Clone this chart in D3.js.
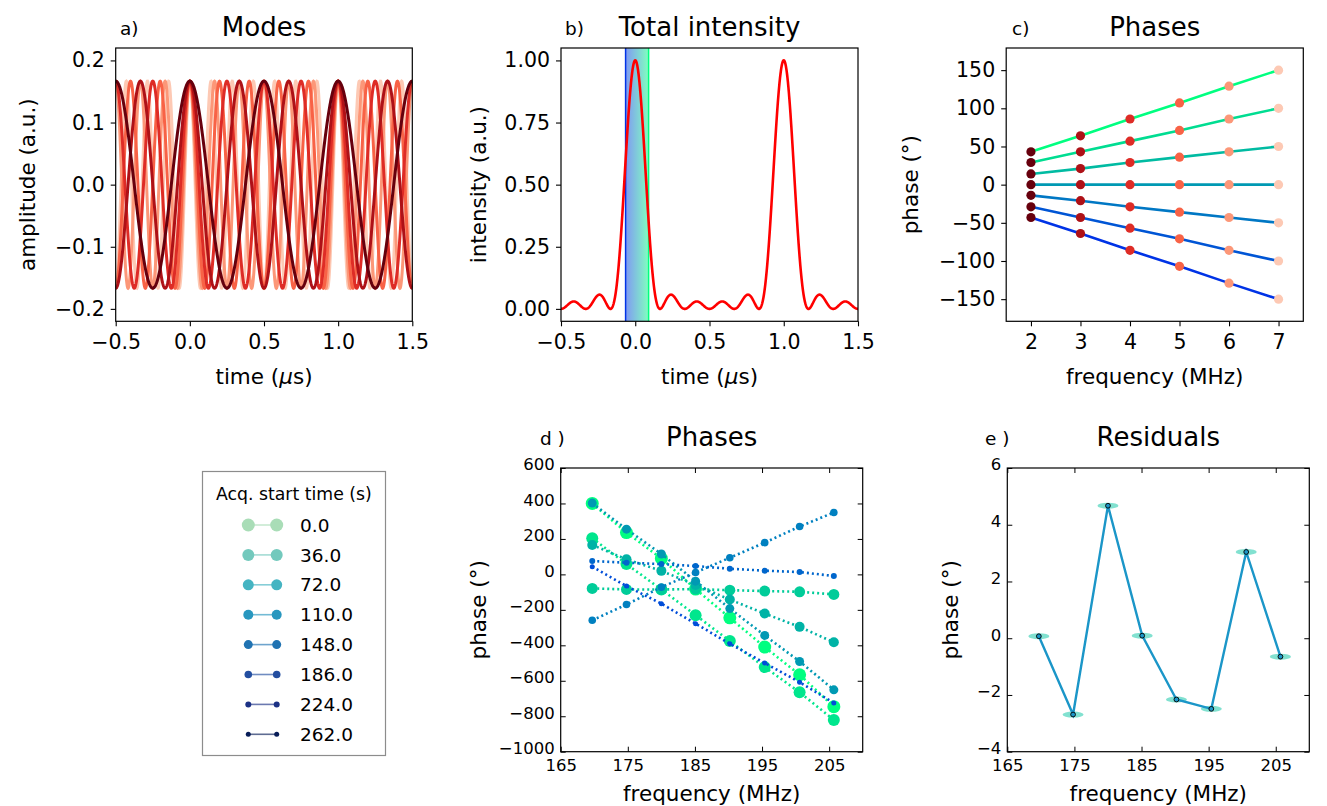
<!DOCTYPE html>
<html>
<head>
<meta charset="utf-8">
<script src="https://cdn.jsdelivr.net/npm/d3@7"></script>
<style>
  body { margin: 0; background: #fff; }
  svg text { font-family: "DejaVu Sans", sans-serif; fill: #000; }
</style>
</head>
<body>
<div id="chart"></div>
<script>
// ---- data ----
const modeFreqs = [2, 3, 4, 5, 6, 7];          // MHz
const modeAmp = 0.1667;                         // a.u.
const timeTicks = [-0.5, 0, 0.5, 1, 1.5];
const ampTicks = [-0.2, -0.1, 0, 0.1, 0.2];
const intTicks = [0, 0.25, 0.5, 0.75, 1];
const bandStart = -0.065, bandEnd = 0.09;      // acquisition window (us)

const phaseFreqs = [2, 3, 4, 5, 6, 7];
const phaseLines = [
  [43, 64, 86, 107, 129, 150],
  [29, 43, 57, 71, 86, 100],
  [14, 21, 29, 36, 43, 50],
  [0, 0, 0, 0, 0, 0],
  [-14, -21, -29, -36, -43, -50],
  [-29, -43, -57, -71, -86, -100],
  [-43, -64, -86, -107, -129, -150]
];
const phaseTicks = [-150, -100, -50, 0, 50, 100, 150];

const acqTimes = ['0.0', '36.0', '72.0', '110.0', '148.0', '186.0', '224.0', '262.0'];
const measFreqs = [169.7, 174.8, 180.0, 185.1, 190.2, 195.4, 200.6, 205.7];
const measPhases = [
  [400, 236, 90, -83, -245, -410, -566, -746],
  [204, 58, -85, -230, -376, -523, -665, -821],
  [-79, -85, -85, -83, -89, -94, -98, -113],
  [166, 85, 20, -60, -142, -221, -296, -383],
  [402, 255, 115, -38, -193, -344, -491, -651],
  [-259, -170, -72, 11, 94, 179, 270, 349],
  [75, 66, 58, 47, 32, 21, 13, -9],
  [43, -66, -165, -278, -391, -500, -608, -725]
];
const freqTicks = [165, 175, 185, 195, 205];
const dPhaseTicks = [-1000, -800, -600, -400, -200, 0, 200, 400, 600];
const residuals = [0.07, -2.69, 4.67, 0.09, -2.16, -2.49, 3.04, -0.65];
const resTicks = [-4, -2, 0, 2, 4, 6];

// ---- layout ----
const boxA = { l: 115.7, r: 412.3, t: 48, b: 321.3 };
const boxB = { l: 561, r: 858, t: 48, b: 321.3 };
const boxC = { l: 1006.2, r: 1303.3, t: 48, b: 321.3 };
const boxD = { l: 560.7, r: 862.7, t: 468, b: 751.7 };
const boxE = { l: 1007.3, r: 1309.3, t: 468, b: 751.7 };

const winter = d3.interpolateRgb('#0000ff', '#00ff80');
const markerR = [6.5, 6, 5.5, 5, 4.5, 3.8, 3, 2.5];

const svg = d3.select('#chart').append('svg')
  .attr('width', 1327)
  .attr('height', 806);

const defs = svg.append('defs');
[['A', boxA], ['B', boxB], ['C', boxC], ['D', boxD], ['E', boxE]].forEach(([id, b]) => {
  defs.append('clipPath').attr('id', 'clip' + id)
    .append('rect')
    .attr('x', b.l).attr('y', b.t)
    .attr('width', b.r - b.l).attr('height', b.b - b.t);
});

// Axes in the newer matplotlib look: outward ticks on left/bottom, full frame
function frameNew(box, x, y, xTicks, yTicks, xFmt, yFmt) {
  const g = svg.append('g');
  g.append('g')
    .attr('transform', `translate(0,${box.b})`)
    .call(d3.axisBottom(x).tickValues(xTicks).tickFormat(xFmt).tickSizeInner(5).tickSizeOuter(0).tickPadding(8))
    .call(s => s.select('.domain').remove())
    .call(s => s.selectAll('text').attr('font-size', 20.5));
  g.append('g')
    .attr('transform', `translate(${box.l},0)`)
    .call(d3.axisLeft(y).tickValues(yTicks).tickFormat(yFmt).tickSizeInner(5).tickSizeOuter(0).tickPadding(6))
    .call(s => s.select('.domain').remove())
    .call(s => s.selectAll('text').attr('font-size', 20.5));
  g.selectAll('line').attr('stroke', '#000').attr('stroke-width', 1.1);
  g.append('rect')
    .attr('x', box.l).attr('y', box.t)
    .attr('width', box.r - box.l).attr('height', box.b - box.t)
    .attr('fill', 'none').attr('stroke', '#000').attr('stroke-width', 1.2);
  return g;
}

// Axes in the classic look: inward ticks on all four sides
function frameClassic(box, x, y, xTicks, yTicks, yFmt) {
  const g = svg.append('g');
  g.append('g')
    .attr('transform', `translate(0,${box.b})`)
    .call(d3.axisBottom(x).tickValues(xTicks).tickFormat(d3.format('d')).tickSizeInner(-5).tickSizeOuter(0).tickPadding(8))
    .call(s => s.select('.domain').remove())
    .call(s => s.selectAll('text').attr('font-size', 16.5));
  g.append('g')
    .attr('transform', `translate(0,${box.t})`)
    .call(d3.axisTop(x).tickValues(xTicks).tickFormat('').tickSizeInner(-5).tickSizeOuter(0))
    .call(s => s.select('.domain').remove());
  g.append('g')
    .attr('transform', `translate(${box.l},0)`)
    .call(d3.axisLeft(y).tickValues(yTicks).tickFormat(yFmt).tickSizeInner(-5).tickSizeOuter(0).tickPadding(6))
    .call(s => s.select('.domain').remove())
    .call(s => s.selectAll('text').attr('font-size', 16.5).attr('dy', '0.12em'));
  g.append('g')
    .attr('transform', `translate(${box.r},0)`)
    .call(d3.axisRight(y).tickValues(yTicks).tickFormat('').tickSizeInner(-5).tickSizeOuter(0))
    .call(s => s.select('.domain').remove());
  g.selectAll('line').attr('stroke', '#000').attr('stroke-width', 1);
  g.append('rect')
    .attr('x', box.l).attr('y', box.t)
    .attr('width', box.r - box.l).attr('height', box.b - box.t)
    .attr('fill', 'none').attr('stroke', '#000').attr('stroke-width', 1.2);
  return g;
}

function titles(box, letter, letterX, title, baseY) {
  svg.append('text').attr('x', letterX).attr('y', baseY - 1)
    .attr('font-size', 18.5).text(letter);
  svg.append('text').attr('x', (box.l + box.r) / 2).attr('y', baseY)
    .attr('text-anchor', 'middle').attr('font-size', 26).text(title);
}

function yLabel(cx, box, txt) {
  svg.append('text')
    .attr('transform', `translate(${cx},${(box.t + box.b) / 2}) rotate(-90)`)
    .attr('text-anchor', 'middle').attr('dy', '0.35em')
    .attr('font-size', 21.5).text(txt);
}

function xLabel(box, cy, parts) {
  const t = svg.append('text')
    .attr('x', (box.l + box.r) / 2).attr('y', cy)
    .attr('text-anchor', 'middle').attr('dy', '0.35em')
    .attr('font-size', 21.5);
  parts.forEach(p => {
    t.append('tspan').attr('font-style', p[1] ? 'italic' : null).text(p[0]);
  });
}

// ---------- a) Modes ----------
const xA = d3.scaleLinear().domain([-0.5, 1.5]).range([boxA.l, boxA.r]);
const yA = d3.scaleLinear().domain([-0.22, 0.22]).range([boxA.b, boxA.t]);
const redC = d3.scaleLinear().domain([0, modeFreqs.length - 1]).range([1, 0.2]);
const tSamples = d3.range(0, 1201).map(i => -0.5 + i * 2 / 1200);

const gA = svg.append('g').attr('clip-path', 'url(#clipA)');
modeFreqs.map((f, i) => ({ f, i })).reverse().forEach(m => {
  gA.append('path')
    .datum(tSamples.map(t => [t, modeAmp * Math.cos(2 * Math.PI * m.f * t)]))
    .attr('d', d3.line().x(d => xA(d[0])).y(d => yA(d[1])))
    .attr('fill', 'none')
    .attr('stroke', d3.interpolateReds(redC(m.i)))
    .attr('stroke-width', 3);
});
frameNew(boxA, xA, yA, timeTicks, ampTicks, d3.format('.1f'), d3.format('.1f'));
titles(boxA, 'a)', 120, 'Modes', 36);
yLabel(27, boxA, 'amplitude (a.u.)');
xLabel(boxA, 376, [['time ('], ['\u03bc', true], ['s)']]);

// ---------- b) Total intensity ----------
const xB = d3.scaleLinear().domain([-0.5, 1.5]).range([boxB.l, boxB.r]);
const yB = d3.scaleLinear().domain([-0.05, 1.05]).range([boxB.b, boxB.t]);
const grad = defs.append('linearGradient').attr('id', 'bandGrad')
  .attr('x1', '0').attr('x2', '1').attr('y1', '0').attr('y2', '0');
grad.append('stop').attr('offset', '0').attr('stop-color', winter(0.2)).attr('stop-opacity', 0.5);
grad.append('stop').attr('offset', '1').attr('stop-color', winter(1)).attr('stop-opacity', 0.5);

const gB = svg.append('g').attr('clip-path', 'url(#clipB)');
gB.append('rect')
  .attr('x', xB(bandStart)).attr('y', boxB.t)
  .attr('width', xB(bandEnd) - xB(bandStart)).attr('height', boxB.b - boxB.t)
  .attr('fill', 'url(#bandGrad)');
gB.append('line').attr('x1', xB(bandStart)).attr('x2', xB(bandStart))
  .attr('y1', boxB.t).attr('y2', boxB.b).attr('stroke', winter(0.2)).attr('stroke-width', 1.5);
gB.append('line').attr('x1', xB(bandEnd)).attr('x2', xB(bandEnd))
  .attr('y1', boxB.t).attr('y2', boxB.b).attr('stroke', winter(1)).attr('stroke-width', 1.5);

const intensity = tSamples.map(t => {
  let re = 0, im = 0;
  modeFreqs.forEach(f => {
    re += modeAmp * Math.cos(2 * Math.PI * f * t);
    im += modeAmp * Math.sin(2 * Math.PI * f * t);
  });
  return [t, re * re + im * im];
});
gB.append('path').datum(intensity)
  .attr('d', d3.line().x(d => xB(d[0])).y(d => yB(d[1])))
  .attr('fill', 'none').attr('stroke', '#ff0000').attr('stroke-width', 2.6);
frameNew(boxB, xB, yB, timeTicks, intTicks, d3.format('.1f'), d3.format('.2f'));
titles(boxB, 'b)', 565, 'Total intensity', 36);
yLabel(478, boxB, 'intensity (a.u.)');
xLabel(boxB, 376, [['time ('], ['\u03bc', true], ['s)']]);

// ---------- c) Phases ----------
const xC = d3.scaleLinear().domain([1.5, 7.5]).range([boxC.l, boxC.r]);
const yC = d3.scaleLinear().domain([-179, 179]).range([boxC.b, boxC.t]);
const lineC = d3.scaleLinear().domain([0, phaseLines.length - 1]).range([1, 0.2]);
const gC = svg.append('g').attr('clip-path', 'url(#clipC)');
phaseLines.forEach((vals, i) => {
  gC.append('path')
    .datum(vals.map((v, j) => [phaseFreqs[j], v]))
    .attr('d', d3.line().x(d => xC(d[0])).y(d => yC(d[1])))
    .attr('fill', 'none').attr('stroke', winter(lineC(i))).attr('stroke-width', 2.6);
});
phaseLines.forEach(vals => {
  gC.selectAll(null)
    .data(vals.map((v, j) => ({ f: phaseFreqs[j], v, j })))
    .enter().append('circle')
    .attr('cx', d => xC(d.f)).attr('cy', d => yC(d.v)).attr('r', 4.6)
    .attr('fill', d => d3.interpolateReds(redC(d.j)));
});
frameNew(boxC, xC, yC, phaseFreqs, phaseTicks, d3.format('d'), d3.format('d'));
titles(boxC, 'c)', 1012, 'Phases', 36);
yLabel(910, boxC, 'phase (\u00b0)');
xLabel(boxC, 376, [['frequency (MHz)']]);

// ---------- legend ----------
const legColor = d3.scaleLinear().domain([0, acqTimes.length - 1]).range([0.3, 1]);
const leg = svg.append('g');
leg.append('rect')
  .attr('x', 202.5).attr('y', 471.5).attr('width', 183).attr('height', 284)
  .attr('fill', '#fff').attr('stroke', '#8c8c8c').attr('stroke-width', 1.2);
leg.append('text').attr('x', 216).attr('y', 500).attr('font-size', 17.3)
  .text('Acq. start time (s)');
const legRow = d3.scaleLinear().domain([0, acqTimes.length - 1]).range([525, 734.3]);
acqTimes.forEach((lab, i) => {
  const c = d3.interpolateYlGnBu(legColor(i));
  const cy = legRow(i);
  leg.append('line').attr('x1', 248.3).attr('x2', 276.7).attr('y1', cy).attr('y2', cy)
    .attr('stroke', c).attr('stroke-opacity', 0.65).attr('stroke-width', 1.6);
  [248.3, 276.7].forEach(cx => {
    leg.append('circle').attr('cx', cx).attr('cy', cy).attr('r', markerR[i]).attr('fill', c);
  });
  leg.append('text').attr('x', 300).attr('y', cy).attr('dy', '0.36em')
    .attr('font-size', 18.5).text(lab);
});

// ---------- d) Phases (measured) ----------
const xD = d3.scaleLinear().domain([165, 210]).range([boxD.l, boxD.r]);
const yD = d3.scaleLinear().domain([-1000, 600]).range([boxD.b, boxD.t]);
const serC = d3.scaleLinear().domain([0, measPhases.length - 1]).range([1, 0.3]);
const gD = svg.append('g').attr('clip-path', 'url(#clipD)');
measPhases.forEach((vals, i) => {
  const c = winter(serC(i));
  const pts = vals.map((v, j) => [measFreqs[j], v]);
  gD.append('path').datum(pts)
    .attr('d', d3.line().x(d => xD(d[0])).y(d => yD(d[1])))
    .attr('fill', 'none').attr('stroke', c).attr('stroke-width', 2.6)
    .attr('stroke-dasharray', '2,3');
  gD.selectAll(null).data(pts).enter().append('circle')
    .attr('cx', d => xD(d[0])).attr('cy', d => yD(d[1]))
    .attr('r', markerR[i]).attr('fill', c);
});
frameClassic(boxD, xD, yD, freqTicks, dPhaseTicks, d3.format('d'));
titles(boxD, 'd )', 540, 'Phases', 446);
yLabel(478, boxD, 'phase (\u00b0)');
xLabel(boxD, 793, [['frequency (MHz)']]);

// ---------- e) Residuals ----------
const xE = d3.scaleLinear().domain([165, 210]).range([boxE.l, boxE.r]);
const yE = d3.scaleLinear().domain([-4, 6]).range([boxE.b, boxE.t]);
const gE = svg.append('g').attr('clip-path', 'url(#clipE)');
const resPts = residuals.map((v, j) => [measFreqs[j], v]);
gE.selectAll('ellipse').data(resPts).enter().append('ellipse')
  .attr('cx', d => xE(d[0])).attr('cy', d => yE(d[1]))
  .attr('rx', 10.5).attr('ry', 3)
  .attr('fill', '#6cdcc8').attr('fill-opacity', 0.85);
gE.append('path').datum(resPts)
  .attr('d', d3.line().x(d => xE(d[0])).y(d => yE(d[1])))
  .attr('fill', 'none').attr('stroke', '#1b96c8').attr('stroke-width', 2.4);
gE.selectAll('circle').data(resPts).enter().append('circle')
  .attr('cx', d => xE(d[0])).attr('cy', d => yE(d[1]))
  .attr('r', 2.4).attr('fill', '#1b96c8').attr('stroke', '#000').attr('stroke-width', 0.9);
frameClassic(boxE, xE, yE, freqTicks, resTicks, d3.format('d'));
titles(boxE, 'e )', 985, 'Residuals', 446);
yLabel(950, boxE, 'phase (\u00b0)');
xLabel(boxE, 793, [['frequency (MHz)']]);
</script>
</body>
</html>
